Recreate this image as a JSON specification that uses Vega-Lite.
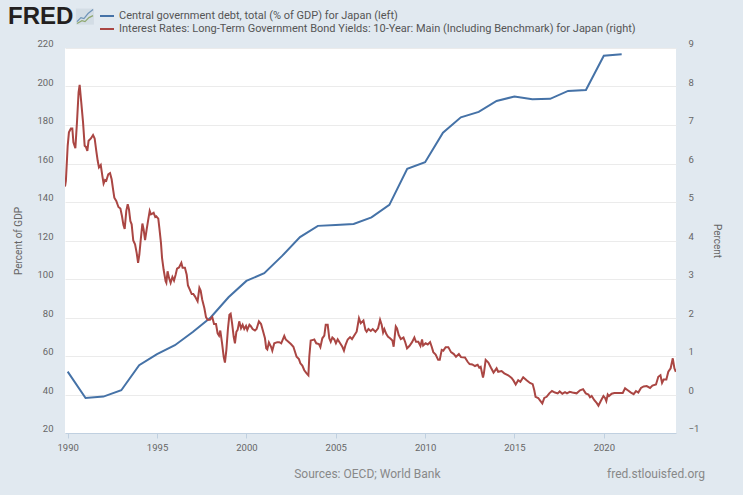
{"$schema":"https://vega.github.io/schema/vega-lite/v6.json","width":611,"height":385,"autosize":"none","padding":{"left":65,"top":48,"right":67,"bottom":62},"background":"#e1e9f0","view":{"fill":"#ffffff","stroke":null},"config":{"font":"Roboto","axis":{"labelFont":"Roboto","titleFont":"Roboto"},"legend":{"labelFont":"Roboto"}},"title":{"text":"FRED","anchor":"start","frame":"group","font":"Liberation Sans","fontSize":24,"fontWeight":"bold","color":"#231f20","dx":-57,"offset":-22},"datasets":{"debt":[{"year":1990,"value":51.9},{"year":1991,"value":38.2},{"year":1992,"value":38.9},{"year":1993,"value":42.2},{"year":1994,"value":55.2},{"year":1995,"value":61},{"year":1996,"value":65.6},{"year":1997,"value":72.5},{"year":1998,"value":80},{"year":1999,"value":90.5},{"year":2000,"value":99},{"year":2001,"value":103},{"year":2002,"value":112},{"year":2003,"value":121.8},{"year":2004,"value":127.6},{"year":2005,"value":128.1},{"year":2006,"value":128.6},{"year":2007,"value":132},{"year":2008,"value":138.5},{"year":2009,"value":157.3},{"year":2010,"value":160.7},{"year":2011,"value":176},{"year":2012,"value":184},{"year":2013,"value":186.8},{"year":2014,"value":192.5},{"year":2015,"value":194.8},{"year":2016,"value":193.4},{"year":2017,"value":193.6},{"year":2018,"value":197.7},{"year":2019,"value":198.2},{"year":2020,"value":216},{"year":2021,"value":216.7}],"yields":[{"year":1989.85,"value":5.4},{"year":1989.9,"value":5.55},{"year":1990,"value":6.46},{"year":1990.07,"value":6.81},{"year":1990.18,"value":6.91},{"year":1990.26,"value":6.91},{"year":1990.32,"value":6.55},{"year":1990.43,"value":6.4},{"year":1990.52,"value":7.07},{"year":1990.61,"value":7.85},{"year":1990.67,"value":8.04},{"year":1990.76,"value":7.59},{"year":1990.86,"value":7.07},{"year":1990.95,"value":6.46},{"year":1991.02,"value":6.43},{"year":1991.1,"value":6.33},{"year":1991.17,"value":6.59},{"year":1991.3,"value":6.65},{"year":1991.42,"value":6.74},{"year":1991.51,"value":6.65},{"year":1991.6,"value":6.33},{"year":1991.68,"value":6.07},{"year":1991.75,"value":5.9},{"year":1991.85,"value":5.96},{"year":1991.94,"value":5.68},{"year":1992.01,"value":5.48},{"year":1992.09,"value":5.57},{"year":1992.16,"value":5.55},{"year":1992.27,"value":5.72},{"year":1992.37,"value":5.75},{"year":1992.46,"value":5.59},{"year":1992.54,"value":5.33},{"year":1992.61,"value":5.11},{"year":1992.72,"value":5.03},{"year":1992.84,"value":4.87},{"year":1992.95,"value":4.83},{"year":1993.04,"value":4.63},{"year":1993.12,"value":4.4},{"year":1993.19,"value":4.3},{"year":1993.28,"value":4.77},{"year":1993.36,"value":4.94},{"year":1993.43,"value":4.81},{"year":1993.51,"value":4.5},{"year":1993.58,"value":4.42},{"year":1993.67,"value":4},{"year":1993.77,"value":3.9},{"year":1993.86,"value":3.68},{"year":1993.94,"value":3.42},{"year":1994.01,"value":3.63},{"year":1994.09,"value":4.03},{"year":1994.18,"value":4.44},{"year":1994.25,"value":4.29},{"year":1994.33,"value":4.01},{"year":1994.42,"value":4.29},{"year":1994.51,"value":4.55},{"year":1994.59,"value":4.77},{"year":1994.66,"value":4.68},{"year":1994.74,"value":4.7},{"year":1994.81,"value":4.72},{"year":1994.9,"value":4.61},{"year":1994.96,"value":4.63},{"year":1995.07,"value":4.57},{"year":1995.13,"value":4.33},{"year":1995.22,"value":3.94},{"year":1995.28,"value":3.55},{"year":1995.37,"value":3.24},{"year":1995.48,"value":2.94},{"year":1995.52,"value":2.9},{"year":1995.59,"value":3.2},{"year":1995.67,"value":3.03},{"year":1995.76,"value":2.9},{"year":1995.86,"value":3.05},{"year":1995.95,"value":2.96},{"year":1996.04,"value":3.11},{"year":1996.12,"value":3.27},{"year":1996.23,"value":3.3},{"year":1996.36,"value":3.42},{"year":1996.43,"value":3.29},{"year":1996.56,"value":3.29},{"year":1996.66,"value":3.11},{"year":1996.73,"value":2.83},{"year":1996.84,"value":2.72},{"year":1996.94,"value":2.61},{"year":1997.03,"value":2.61},{"year":1997.12,"value":2.55},{"year":1997.27,"value":2.42},{"year":1997.37,"value":2.77},{"year":1997.44,"value":2.7},{"year":1997.53,"value":2.46},{"year":1997.65,"value":2.24},{"year":1997.74,"value":2.01},{"year":1997.83,"value":1.94},{"year":1997.96,"value":1.94},{"year":1998.09,"value":2.01},{"year":1998.19,"value":1.83},{"year":1998.3,"value":1.83},{"year":1998.39,"value":1.59},{"year":1998.47,"value":1.53},{"year":1998.54,"value":1.66},{"year":1998.64,"value":1.33},{"year":1998.73,"value":0.98},{"year":1998.8,"value":0.83},{"year":1998.88,"value":1.16},{"year":1998.97,"value":1.72},{"year":1999.05,"value":2.07},{"year":1999.12,"value":2.1},{"year":1999.2,"value":1.85},{"year":1999.29,"value":1.5},{"year":1999.36,"value":1.33},{"year":1999.44,"value":1.63},{"year":1999.51,"value":1.68},{"year":1999.6,"value":1.9},{"year":1999.7,"value":1.72},{"year":1999.79,"value":1.81},{"year":1999.88,"value":1.7},{"year":1999.98,"value":1.78},{"year":2000.05,"value":1.68},{"year":2000.17,"value":1.81},{"year":2000.24,"value":1.78},{"year":2000.35,"value":1.7},{"year":2000.48,"value":1.66},{"year":2000.57,"value":1.7},{"year":2000.7,"value":1.9},{"year":2000.82,"value":1.83},{"year":2000.91,"value":1.68},{"year":2001.04,"value":1.46},{"year":2001.11,"value":1.2},{"year":2001.17,"value":1.17},{"year":2001.26,"value":1.35},{"year":2001.38,"value":1.24},{"year":2001.45,"value":1.14},{"year":2001.56,"value":1.33},{"year":2001.73,"value":1.36},{"year":2001.84,"value":1.36},{"year":2001.95,"value":1.33},{"year":2002.12,"value":1.52},{"year":2002.2,"value":1.43},{"year":2002.35,"value":1.37},{"year":2002.49,"value":1.31},{"year":2002.63,"value":1.24},{"year":2002.72,"value":1.11},{"year":2002.81,"value":0.98},{"year":2002.94,"value":0.92},{"year":2003.02,"value":0.81},{"year":2003.13,"value":0.75},{"year":2003.24,"value":0.63},{"year":2003.37,"value":0.55},{"year":2003.47,"value":0.5},{"year":2003.52,"value":0.98},{"year":2003.6,"value":1.4},{"year":2003.73,"value":1.42},{"year":2003.8,"value":1.43},{"year":2003.91,"value":1.33},{"year":2004.06,"value":1.31},{"year":2004.14,"value":1.23},{"year":2004.25,"value":1.46},{"year":2004.36,"value":1.53},{"year":2004.44,"value":1.81},{"year":2004.55,"value":1.81},{"year":2004.64,"value":1.46},{"year":2004.72,"value":1.37},{"year":2004.81,"value":1.48},{"year":2004.92,"value":1.43},{"year":2005.01,"value":1.33},{"year":2005.11,"value":1.43},{"year":2005.22,"value":1.35},{"year":2005.37,"value":1.24},{"year":2005.46,"value":1.14},{"year":2005.55,"value":1.29},{"year":2005.67,"value":1.43},{"year":2005.8,"value":1.49},{"year":2005.91,"value":1.44},{"year":2006.06,"value":1.55},{"year":2006.17,"value":1.63},{"year":2006.3,"value":1.98},{"year":2006.4,"value":1.85},{"year":2006.55,"value":1.92},{"year":2006.66,"value":1.68},{"year":2006.73,"value":1.63},{"year":2006.83,"value":1.7},{"year":2006.96,"value":1.65},{"year":2007.07,"value":1.7},{"year":2007.22,"value":1.63},{"year":2007.37,"value":1.72},{"year":2007.48,"value":1.94},{"year":2007.57,"value":1.81},{"year":2007.65,"value":1.61},{"year":2007.72,"value":1.7},{"year":2007.83,"value":1.57},{"year":2007.93,"value":1.5},{"year":2008.04,"value":1.46},{"year":2008.17,"value":1.4},{"year":2008.24,"value":1.24},{"year":2008.36,"value":1.77},{"year":2008.43,"value":1.72},{"year":2008.52,"value":1.55},{"year":2008.64,"value":1.44},{"year":2008.79,"value":1.48},{"year":2008.88,"value":1.37},{"year":2008.99,"value":1.2},{"year":2009.12,"value":1.26},{"year":2009.27,"value":1.36},{"year":2009.4,"value":1.48},{"year":2009.49,"value":1.37},{"year":2009.62,"value":1.37},{"year":2009.74,"value":1.26},{"year":2009.83,"value":1.43},{"year":2009.89,"value":1.27},{"year":2010.03,"value":1.33},{"year":2010.15,"value":1.3},{"year":2010.28,"value":1.36},{"year":2010.37,"value":1.24},{"year":2010.46,"value":1.1},{"year":2010.59,"value":1.04},{"year":2010.73,"value":0.9},{"year":2010.82,"value":0.9},{"year":2010.93,"value":1.16},{"year":2011.02,"value":1.14},{"year":2011.15,"value":1.23},{"year":2011.3,"value":1.23},{"year":2011.45,"value":1.1},{"year":2011.61,"value":1.05},{"year":2011.73,"value":0.98},{"year":2011.89,"value":1.05},{"year":2012.01,"value":0.97},{"year":2012.23,"value":0.96},{"year":2012.38,"value":0.85},{"year":2012.49,"value":0.79},{"year":2012.64,"value":0.78},{"year":2012.79,"value":0.74},{"year":2012.94,"value":0.77},{"year":2013.03,"value":0.7},{"year":2013.11,"value":0.72},{"year":2013.24,"value":0.44},{"year":2013.29,"value":0.55},{"year":2013.39,"value":0.9},{"year":2013.54,"value":0.83},{"year":2013.68,"value":0.7},{"year":2013.83,"value":0.57},{"year":2013.91,"value":0.62},{"year":2014,"value":0.68},{"year":2014.09,"value":0.59},{"year":2014.28,"value":0.61},{"year":2014.43,"value":0.55},{"year":2014.65,"value":0.5},{"year":2014.84,"value":0.43},{"year":2014.95,"value":0.36},{"year":2015.07,"value":0.26},{"year":2015.21,"value":0.37},{"year":2015.33,"value":0.33},{"year":2015.49,"value":0.45},{"year":2015.68,"value":0.37},{"year":2015.87,"value":0.3},{"year":2016.02,"value":0.27},{"year":2016.11,"value":0.11},{"year":2016.18,"value":-0.06},{"year":2016.33,"value":-0.09},{"year":2016.46,"value":-0.17},{"year":2016.56,"value":-0.23},{"year":2016.67,"value":-0.09},{"year":2016.8,"value":-0.06},{"year":2016.95,"value":0.03},{"year":2017.1,"value":0.09},{"year":2017.27,"value":0.05},{"year":2017.42,"value":0.03},{"year":2017.53,"value":0.08},{"year":2017.68,"value":0.02},{"year":2017.83,"value":0.06},{"year":2017.94,"value":0.03},{"year":2018.09,"value":0.07},{"year":2018.24,"value":0.05},{"year":2018.48,"value":0.03},{"year":2018.67,"value":0.11},{"year":2018.84,"value":0.14},{"year":2018.99,"value":0.03},{"year":2019.14,"value":0},{"year":2019.23,"value":-0.07},{"year":2019.32,"value":-0.04},{"year":2019.47,"value":-0.15},{"year":2019.6,"value":-0.22},{"year":2019.7,"value":-0.29},{"year":2019.83,"value":-0.17},{"year":2019.98,"value":-0.04},{"year":2020.07,"value":-0.09},{"year":2020.14,"value":-0.17},{"year":2020.22,"value":0},{"year":2020.29,"value":-0.04},{"year":2020.44,"value":0.02},{"year":2020.59,"value":0.04},{"year":2020.74,"value":0.04},{"year":2020.91,"value":0.04},{"year":2021.06,"value":0.04},{"year":2021.19,"value":0.16},{"year":2021.34,"value":0.11},{"year":2021.52,"value":0.05},{"year":2021.67,"value":0.01},{"year":2021.8,"value":0.09},{"year":2021.93,"value":0.05},{"year":2022.08,"value":0.17},{"year":2022.23,"value":0.21},{"year":2022.4,"value":0.22},{"year":2022.59,"value":0.17},{"year":2022.72,"value":0.23},{"year":2022.92,"value":0.26},{"year":2023.05,"value":0.46},{"year":2023.17,"value":0.5},{"year":2023.26,"value":0.3},{"year":2023.35,"value":0.39},{"year":2023.5,"value":0.39},{"year":2023.61,"value":0.59},{"year":2023.74,"value":0.68},{"year":2023.86,"value":0.94},{"year":2023.95,"value":0.68},{"year":2024.03,"value":0.59}],"notes":[{"year":2006.77,"value":-1.5,"label":"Sources: OECD; World Bank"},{"year":2022.92,"value":-1.5,"label":"fred.stlouisfed.org"}],"logoBox":[{"x1":1990.46,"x2":1991.47,"y1":232.15,"y2":240.5}],"logoBlue":[{"year":1990.52,"value":233.7},{"year":1990.74,"value":235.8},{"year":1990.91,"value":235.3},{"year":1991.14,"value":237.9},{"year":1991.42,"value":240}],"logoGreen":[{"year":1990.52,"value":232.7},{"year":1990.8,"value":234.2},{"year":1990.97,"value":233.7},{"year":1991.19,"value":235.8},{"year":1991.42,"value":236.8}]},"layer":[{"data":{"name":"debt"},"transform":[{"calculate":"'Central government debt, total (% of GDP) for Japan (left)'","as":"series"}],"mark":{"type":"line","strokeWidth":2,"clip":false},"encoding":{"x":{"field":"year","type":"quantitative","scale":{"domain":[1989.85,2024.04],"nice":false,"zero":false},"axis":{"title":null,"values":[1990,1995,2000,2005,2010,2015,2020],"format":"d","grid":false,"domainColor":"#c0d0e0","tickColor":"#c0d0e0","tickSize":5,"labelColor":"#666666","labelFontSize":9.5,"labelPadding":4}},"y":{"field":"value","type":"quantitative","scale":{"domain":[20,220],"nice":false,"zero":false},"axis":{"title":"Percent of GDP","orient":"left","values":[20,40,60,80,100,120,140,160,180,200,220],"grid":true,"gridColor":"#ebebeb","gridWidth":1,"domain":false,"ticks":false,"labelColor":"#666666","labelFontSize":9.5,"labelPadding":12,"labelOffset":-4.5,"titleColor":"#666666","titleFontSize":10,"titleFontWeight":"normal","titlePadding":13}},"color":{"field":"series","type":"nominal","scale":{"domain":["Central government debt, total (% of GDP) for Japan (left)","Interest Rates: Long-Term Government Bond Yields: 10-Year: Main (Including Benchmark) for Japan (right)"],"range":["#4572a7","#aa4643"]},"legend":{"title":null,"orient":"none","legendX":34,"legendY":-40,"symbolType":"stroke","symbolSize":196,"symbolStrokeWidth":2,"labelFontSize":11,"labelColor":"#555555","labelLimit":700,"rowPadding":0,"labelOffset":4}}}},{"data":{"name":"yields"},"transform":[{"calculate":"'Interest Rates: Long-Term Government Bond Yields: 10-Year: Main (Including Benchmark) for Japan (right)'","as":"series"}],"mark":{"type":"line","strokeWidth":2,"clip":true},"encoding":{"x":{"field":"year","type":"quantitative"},"y":{"field":"value","type":"quantitative","scale":{"domain":[-1,9],"nice":false,"zero":false},"axis":{"title":"Percent","orient":"right","values":[-1,0,1,2,3,4,5,6,7,8,9],"grid":false,"domain":false,"ticks":false,"labelColor":"#666666","labelFontSize":9.5,"labelPadding":12,"labelOffset":-4.5,"titleColor":"#666666","titleFontSize":10,"titleFontWeight":"normal","titlePadding":13,"titleAngle":90}},"color":{"field":"series","type":"nominal"}}},{"data":{"name":"notes"},"mark":{"type":"text","fontSize":12,"color":"#888888","font":"Roboto","clip":false},"encoding":{"x":{"field":"year","type":"quantitative"},"y":{"field":"value","type":"quantitative","scale":{"domain":[20,220],"nice":false,"zero":false},"axis":null},"text":{"field":"label"}}},{"data":{"name":"logoBox"},"mark":{"type":"rect","fill":"#d3dde5","clip":false},"encoding":{"x":{"field":"x1","type":"quantitative"},"x2":{"field":"x2"},"y":{"field":"y1","type":"quantitative","scale":{"domain":[20,220],"nice":false,"zero":false},"axis":null},"y2":{"field":"y2"}}},{"data":{"name":"logoBlue"},"mark":{"type":"line","stroke":"#6e94b8","strokeWidth":1.2,"clip":false},"encoding":{"x":{"field":"year","type":"quantitative"},"y":{"field":"value","type":"quantitative","scale":{"domain":[20,220],"nice":false,"zero":false},"axis":null}}},{"data":{"name":"logoGreen"},"mark":{"type":"line","stroke":"#8fa870","strokeWidth":1.2,"clip":false},"encoding":{"x":{"field":"year","type":"quantitative"},"y":{"field":"value","type":"quantitative","scale":{"domain":[20,220],"nice":false,"zero":false},"axis":null}}}],"resolve":{"scale":{"y":"independent"},"axis":{"y":"independent"}}}
